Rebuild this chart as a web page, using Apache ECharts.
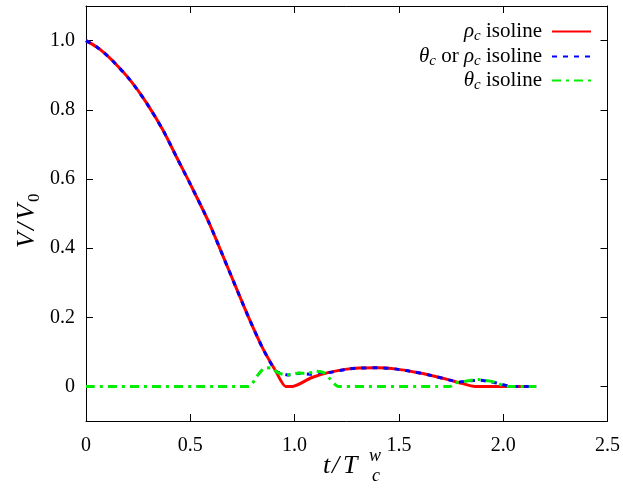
<!DOCTYPE html>
<html>
<head>
<meta charset="utf-8">
<script src="https://cdn.jsdelivr.net/npm/echarts@6/dist/echarts.min.js"></script>
<style>html,body{margin:0;padding:0;background:#fff;}#c{width:623px;height:489px;}</style>
</head>
<body>
<div id="c"></div>
<script>
// ---- data ----
const rhoX = [0, 0.05, 0.09, 0.13, 0.21, 0.29, 0.37, 0.44, 0.50, 0.59, 0.68, 0.78, 0.85, 0.91, 0.958, 0.99, 1.08, 1.16, 1.25, 1.31, 1.40, 1.49, 1.58, 1.66, 1.74, 1.80, 1.864, 2.0, 2.158];
const rhoY = [1.0, 0.982, 0.963, 0.94, 0.887, 0.82, 0.740, 0.656, 0.585, 0.473, 0.343, 0.199, 0.107, 0.044, 0.0, 0.0, 0.025, 0.040, 0.050, 0.053, 0.054, 0.050, 0.041, 0.031, 0.019, 0.009, 0.0, 0.0, 0.0];
const bothX = [0, 0.05, 0.09, 0.13, 0.21, 0.29, 0.37, 0.44, 0.50, 0.59, 0.68, 0.78, 0.85, 0.91, 0.935, 0.96, 0.99, 1.02, 1.05, 1.08, 1.12, 1.16, 1.25, 1.31, 1.40, 1.49, 1.58, 1.66, 1.74, 1.79, 1.84, 1.888, 1.94, 1.983, 2.04, 2.158];
const bothY = [1.0, 0.982, 0.963, 0.94, 0.887, 0.82, 0.740, 0.656, 0.585, 0.473, 0.343, 0.199, 0.107, 0.044, 0.038, 0.034, 0.033, 0.038, 0.036, 0.035, 0.040, 0.040, 0.050, 0.053, 0.054, 0.050, 0.041, 0.031, 0.019, 0.013, 0.016, 0.018, 0.013, 0.008, 0.0, 0.0];
const thetaX = [0, 0.78, 0.82, 0.86, 0.89, 0.92, 0.955, 0.99, 1.02, 1.06, 1.10, 1.14, 1.165, 1.19, 1.21, 1.745, 1.77, 1.82, 1.88, 1.93, 1.97, 2.0, 2.02, 2.158];
const thetaY = [0, 0, 0.03, 0.054, 0.053, 0.040, 0.034, 0.035, 0.039, 0.037, 0.044, 0.040, 0.025, 0.008, 0, 0, 0.010, 0.015, 0.020, 0.016, 0.010, 0.002, 0, 0];
const xTicks = [0, 0.5, 1.0, 1.5, 2.0, 2.5];
const yTicks = [0, 0.2, 0.4, 0.6, 0.8, 1.0];

const pair = (xs, ys) => xs.map((x, i) => [x, ys[i]]);
const FONT = 'Liberation Serif';

const legendNames = {
  rho: '{i|ρ}{s|c}{n| isoline}',
  both: '{i|θ}{s|c}{n| or }{i|ρ}{s|c}{n| isoline}',
  theta: '{i|θ}{s|c}{n| isoline}'
};
const legendRich = {
  n: { fontFamily: FONT, fontSize: 21, color: '#000' },
  i: { fontFamily: FONT, fontStyle: 'italic', fontSize: 21, color: '#000' },
  s: { fontFamily: FONT, fontStyle: 'italic', fontSize: 15, color: '#000', padding: [9, 0, 0, 0] }
};
function mkLegend(name, top) {
  return {
    data: [name], right: 31, top: top, align: 'right', orient: 'vertical',
    itemWidth: 39, itemHeight: 10, padding: 0,
    itemStyle: { opacity: 0 },
    formatter: n => legendNames[n],
    textStyle: { fontFamily: FONT, fontSize: 21, color: '#000', padding: [0, 5, 0, 0], rich: legendRich }
  };
}

const tickRich = { t: { fontFamily: FONT, fontSize: 20, color: '#000' } };
const axisCommon = {
  type: 'value',
  axisLine: { show: true, onZero: false, lineStyle: { color: '#000', width: 1 } },
  axisTick: { show: true, inside: true, length: 7, lineStyle: { color: '#000' } },
  splitLine: { show: false }
};

function glyph(text, x, y, size, italic) {
  return { type: 'text', x: x, y: y, style: { text: text, fill: '#000', verticalAlign: 'middle',
    fontFamily: FONT, fontSize: size, fontStyle: italic ? 'italic' : 'normal', fontWeight: 'normal' } };
}

const chart = echarts.init(document.getElementById('c'), null, { renderer: 'canvas' });
chart.setOption({
  animation: false,
  backgroundColor: '#fff',
  textStyle: { fontFamily: FONT },
  grid: { left: 86, right: 13, top: 6, bottom: 68, containLabel: false },
  legend: [mkLegend('rho', 21), mkLegend('both', 46), mkLegend('theta', 70)],
  xAxis: [
    Object.assign({}, axisCommon, {
      min: 0, max: 2.5, interval: 0.5, position: 'bottom',
      axisTick: Object.assign({}, axisCommon.axisTick, { customValues: xTicks }),
      axisLabel: { customValues: xTicks, margin: 15, fontFamily: FONT, fontSize: 20, color: '#000', rich: tickRich,
        formatter: v => '{t|' + (v === 0 ? '0' : v.toFixed(1)) + '}' }
    }),
    Object.assign({}, axisCommon, {
      min: 0, max: 2.5, interval: 0.5, position: 'top',
      axisTick: Object.assign({}, axisCommon.axisTick, { customValues: xTicks }),
      axisLabel: { show: false }
    })
  ],
  yAxis: [
    Object.assign({}, axisCommon, {
      min: -0.1, max: 1.1, position: 'left',
      axisTick: Object.assign({}, axisCommon.axisTick, { customValues: yTicks }),
      axisLabel: { customValues: yTicks, margin: 11, fontFamily: FONT, fontSize: 20, color: '#000', rich: tickRich,
        formatter: v => '{t|' + (Math.abs(v) < 1e-9 ? '0' : v.toFixed(1)) + '}' }
    }),
    Object.assign({}, axisCommon, {
      min: -0.1, max: 1.1, position: 'right',
      axisTick: Object.assign({}, axisCommon.axisTick, { customValues: yTicks }),
      axisLabel: { show: false }
    })
  ],
  graphic: [
    // x-axis title  t/T_c^w
    glyph('t', 323, 466, 26, true),
    glyph('/', 332, 466, 26, true),
    glyph('T', 343, 466, 26, true),
    glyph('w', 369, 456, 18, true),
    glyph('c', 372, 476, 18, true),
    // y-axis title  V/V_0 (rotated)
    { type: 'group', x: 27, y: 248, rotation: Math.PI / 2, children: [
      glyph('V', 0, 0, 26, true),
      glyph('/', 18, 0, 26, true),
      glyph('V', 28, 0, 26, true),
      glyph('0', 46, 8, 17, false)
    ] }
  ],
  series: [
    { name: 'rho', type: 'line', data: pair(rhoX, rhoY), symbol: 'none', showSymbol: false, smooth: 0.25,
      lineStyle: { color: '#ff0000', width: 3 }, itemStyle: { color: '#ff0000' } },
    { name: 'both', type: 'line', data: pair(bothX, bothY), symbol: 'none', showSymbol: false, smooth: 0.25,
      lineStyle: { color: '#0000ff', width: 3, type: [5, 6] }, itemStyle: { color: '#0000ff' } },
    { name: 'theta', type: 'line', data: pair(thetaX, thetaY), symbol: 'none', showSymbol: false, smooth: 0.25,
      lineStyle: { color: '#00ee00', width: 3, type: [9, 5, 3, 5] }, itemStyle: { color: '#00ee00' } }
  ]
});
</script>
</body>
</html>
